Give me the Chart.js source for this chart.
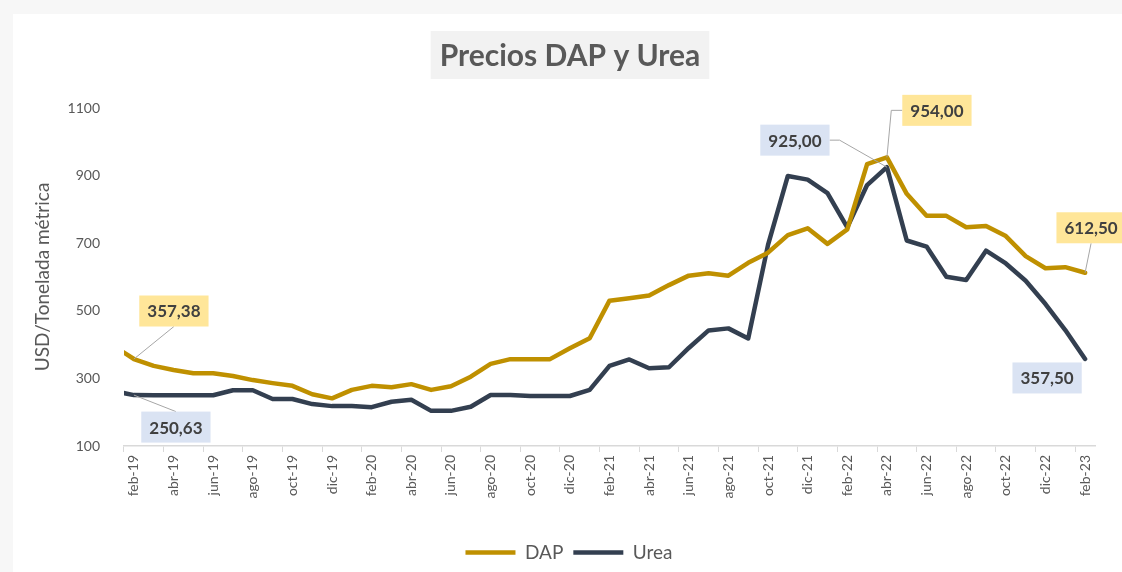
<!DOCTYPE html>
<html lang="es">
<head>
<meta charset="utf-8">
<title>Precios DAP y Urea</title>
<script src="https://cdn.jsdelivr.net/npm/chart.js@4.4.1/dist/chart.umd.min.js"></script>
<style>
    html, body { margin: 0; padding: 0; background: #f7f7f7; }
    body { width: 1122px; height: 572px; overflow: hidden; position: relative; }
    #wrap { position: absolute; left: 13px; top: 14px; width: 1109px; height: 558px; background: #fff; }
    #preciosChart { display: block; width: 1109px; height: 558px; }
</style>
</head>
<body>
<div id="wrap"><canvas id="preciosChart" width="1109" height="558"></canvas></div>
<script>
// meses (ene-19 queda fuera del eje, solo se ve el tramo que entra por la izquierda)
const meses = [
    'ene-19', 'feb-19', 'mar-19', 'abr-19', 'may-19', 'jun-19', 'jul-19', 'ago-19', 'sep-19', 'oct-19', 'nov-19', 'dic-19',
    'ene-20', 'feb-20', 'mar-20', 'abr-20', 'may-20', 'jun-20', 'jul-20', 'ago-20', 'sep-20', 'oct-20', 'nov-20', 'dic-20',
    'ene-21', 'feb-21', 'mar-21', 'abr-21', 'may-21', 'jun-21', 'jul-21', 'ago-21', 'sep-21', 'oct-21', 'nov-21', 'dic-21',
    'ene-22', 'feb-22', 'mar-22', 'abr-22', 'may-22', 'jun-22', 'jul-22', 'ago-22', 'sep-22', 'oct-22', 'nov-22', 'dic-22',
    'ene-23', 'feb-23',
];

// USD / tonelada métrica
const dap = [
    395, 357.38, 337, 325, 315, 315, 307, 295, 286, 278, 253, 241,
    266, 278, 274, 283, 266, 277, 305, 343, 357, 357, 357, 389,
    419, 530, 537, 545, 576, 604, 611, 604, 642, 672, 724, 744,
    698, 741, 934, 954, 846, 781, 781, 747, 751, 721, 662, 626,
    629, 612.5,
];

const urea = [
    262, 250.63, 250, 250, 250, 250, 265, 265, 239, 239, 224, 218,
    218, 215, 231, 237, 204, 204, 216, 251, 251, 248, 248, 248,
    266, 337, 356, 330, 333, 390, 442, 448, 418, 695, 899, 888,
    848, 747, 872, 925, 708, 690, 601, 591, 678, 640, 589, 520,
    443, 357.5,
];

const yTicks = [100, 300, 500, 700, 900, 1100];

const titulo = 'Precios DAP y Urea';
const textColor = '#595959';
const dapColor = '#bf9000';
const ureaColor = '#333f50';
const fontFamily = 'Lato, "Open Sans", sans-serif';

// etiquetas de datos: serie, índice del punto, desplazamiento de la caja
const etiquetas = [
    { serie: 0, idx: 1, dx: 40, dy: -48, guia: 'abajo', fondo: '#ffe699' },
    { serie: 1, idx: 1, dx: 42, dy: 32, guia: 'arriba', fondo: '#dae3f3' },
    { serie: 1, idx: 39, dx: -92, dy: -27, guia: 'derecha', fondo: '#dae3f3' },
    { serie: 0, idx: 39, dx: 50, dy: -47, guia: 'izquierda', fondo: '#ffe699' },
    { serie: 0, idx: 49, dx: 6, dy: -45, guia: 'abajo', fondo: '#ffe699' },
    { serie: 1, idx: 49, dx: -38, dy: 19, guia: null, fondo: '#dae3f3' },
];

const fmt = (v) => v.toFixed(2).replace('.', ',');

// título con caja gris, centrado un poco a la derecha como en el original
const titleBoxPlugin = {
    id: 'titleBox',
    afterDraw(chart) {
        const { ctx } = chart;
        const cx = 557;
        const cy = 41;
        ctx.save();
        ctx.font = `bold 30px ${fontFamily}`;
        const w = ctx.measureText(titulo).width;
        ctx.fillStyle = '#f2f2f2';
        ctx.fillRect(cx - w / 2 - 9, cy - 24, w + 18, 48);
        ctx.fillStyle = textColor;
        ctx.textAlign = 'center';
        ctx.textBaseline = 'middle';
        ctx.fillText(titulo, cx, cy + 1);
        ctx.restore();
    },
};

// la leyenda del original queda algo a la derecha del centro
const legendShiftPlugin = {
    id: 'legendShift',
    afterLayout(chart) {
        if (chart.legend) {
            chart.legend.left += 15;
            chart.legend.right += 15;
        }
    },
};

const dataLabelPlugin = {
    id: 'dataLabels',
    afterDatasetsDraw(chart) {
        const { ctx } = chart;
        ctx.save();
        ctx.font = `bold 17px ${fontFamily}`;
        ctx.textAlign = 'center';
        ctx.textBaseline = 'middle';
        etiquetas.forEach((e) => {
            const pt = chart.getDatasetMeta(e.serie).data[e.idx];
            const value = chart.data.datasets[e.serie].data[e.idx];
            const text = fmt(value);
            const w = ctx.measureText(text).width + 16;
            const h = 31;
            const cx = pt.x + e.dx;
            const cy = pt.y + e.dy;

            ctx.strokeStyle = '#a6a6a6';
            ctx.lineWidth = 1;
            ctx.beginPath();
            if (e.guia === 'abajo') {
                ctx.moveTo(cx, cy + h / 2);
                ctx.lineTo(pt.x, pt.y);
            } else if (e.guia === 'arriba') {
                ctx.moveTo(cx, cy - h / 2);
                ctx.lineTo(pt.x, pt.y);
            } else if (e.guia === 'derecha') {
                ctx.moveTo(cx + w / 2, cy);
                ctx.lineTo(cx + w / 2 + 10, cy);
                ctx.lineTo(pt.x, pt.y);
            } else if (e.guia === 'izquierda') {
                ctx.moveTo(cx - w / 2, cy);
                ctx.lineTo(cx - w / 2 - 11, cy);
                ctx.lineTo(pt.x, pt.y);
            }
            if (e.guia) {
                ctx.stroke();
            }

            ctx.fillStyle = e.fondo;
            ctx.fillRect(cx - w / 2, cy - h / 2, w, h);
            ctx.fillStyle = '#404040';
            ctx.fillText(text, cx, cy + 1);
        });
        ctx.restore();
    },
};

new Chart(document.getElementById('preciosChart'), {
    type: 'line',
    data: {
        labels: meses,
        datasets: [
            {
                label: 'DAP',
                data: dap,
                borderColor: dapColor,
                backgroundColor: dapColor,
                borderWidth: 4.5,
                borderJoinStyle: 'round',
                borderCapStyle: 'round',
                pointRadius: 0,
                tension: 0,
                clip: 0,
            },
            {
                label: 'Urea',
                data: urea,
                borderColor: ureaColor,
                backgroundColor: ureaColor,
                borderWidth: 4.5,
                borderJoinStyle: 'round',
                borderCapStyle: 'round',
                pointRadius: 0,
                tension: 0,
                clip: 0,
            },
        ],
    },
    options: {
        responsive: false,
        animation: false,
        layout: { padding: { left: 0, right: 27, top: 94, bottom: 0 } },
        plugins: {
            title: { display: false },
            legend: {
                position: 'bottom',
                labels: {
                    color: textColor,
                    font: { size: 19, family: fontFamily },
                    usePointStyle: true,
                    pointStyle: 'line',
                    pointStyleWidth: 50,
                    padding: 10,
                },
            },
            tooltip: { enabled: false },
        },
        scales: {
            x: {
                type: 'category',
                min: 'feb-19',
                offset: true,
                grid: {
                    offset: true,
                    drawOnChartArea: false,
                    tickLength: 6,
                    color: (c) => (c.index % 2 === 0 ? '#d9d9d9' : 'rgba(0,0,0,0)'),
                },
                border: { color: '#d9d9d9', width: 1.5 },
                ticks: {
                    autoSkip: false,
                    maxRotation: 90,
                    minRotation: 90,
                    padding: 3,
                    color: textColor,
                    font: { size: 14, family: fontFamily },
                    callback: (val, i) => (i % 2 === 0 ? meses[val] : ''),
                },
                afterFit: (scale) => { scale.height = 87; },
            },
            y: {
                min: 100,
                max: 1100,
                grid: { display: false },
                border: { display: false },
                afterBuildTicks: (scale) => {
                    scale.ticks = yTicks.map((v) => ({ value: v }));
                },
                ticks: {
                    padding: 16,
                    color: textColor,
                    font: { size: 14, family: fontFamily },
                    callback: (v) => String(v),
                },
                title: {
                    display: true,
                    text: 'USD/Tonelada métrica',
                    color: textColor,
                    font: { size: 19, family: fontFamily },
                    padding: { top: 18, bottom: 0 },
                },
                afterFit: (scale) => { scale.width = 111; },
            },
        },
    },
    plugins: [titleBoxPlugin, legendShiftPlugin, dataLabelPlugin],
});
</script>
</body>
</html>
